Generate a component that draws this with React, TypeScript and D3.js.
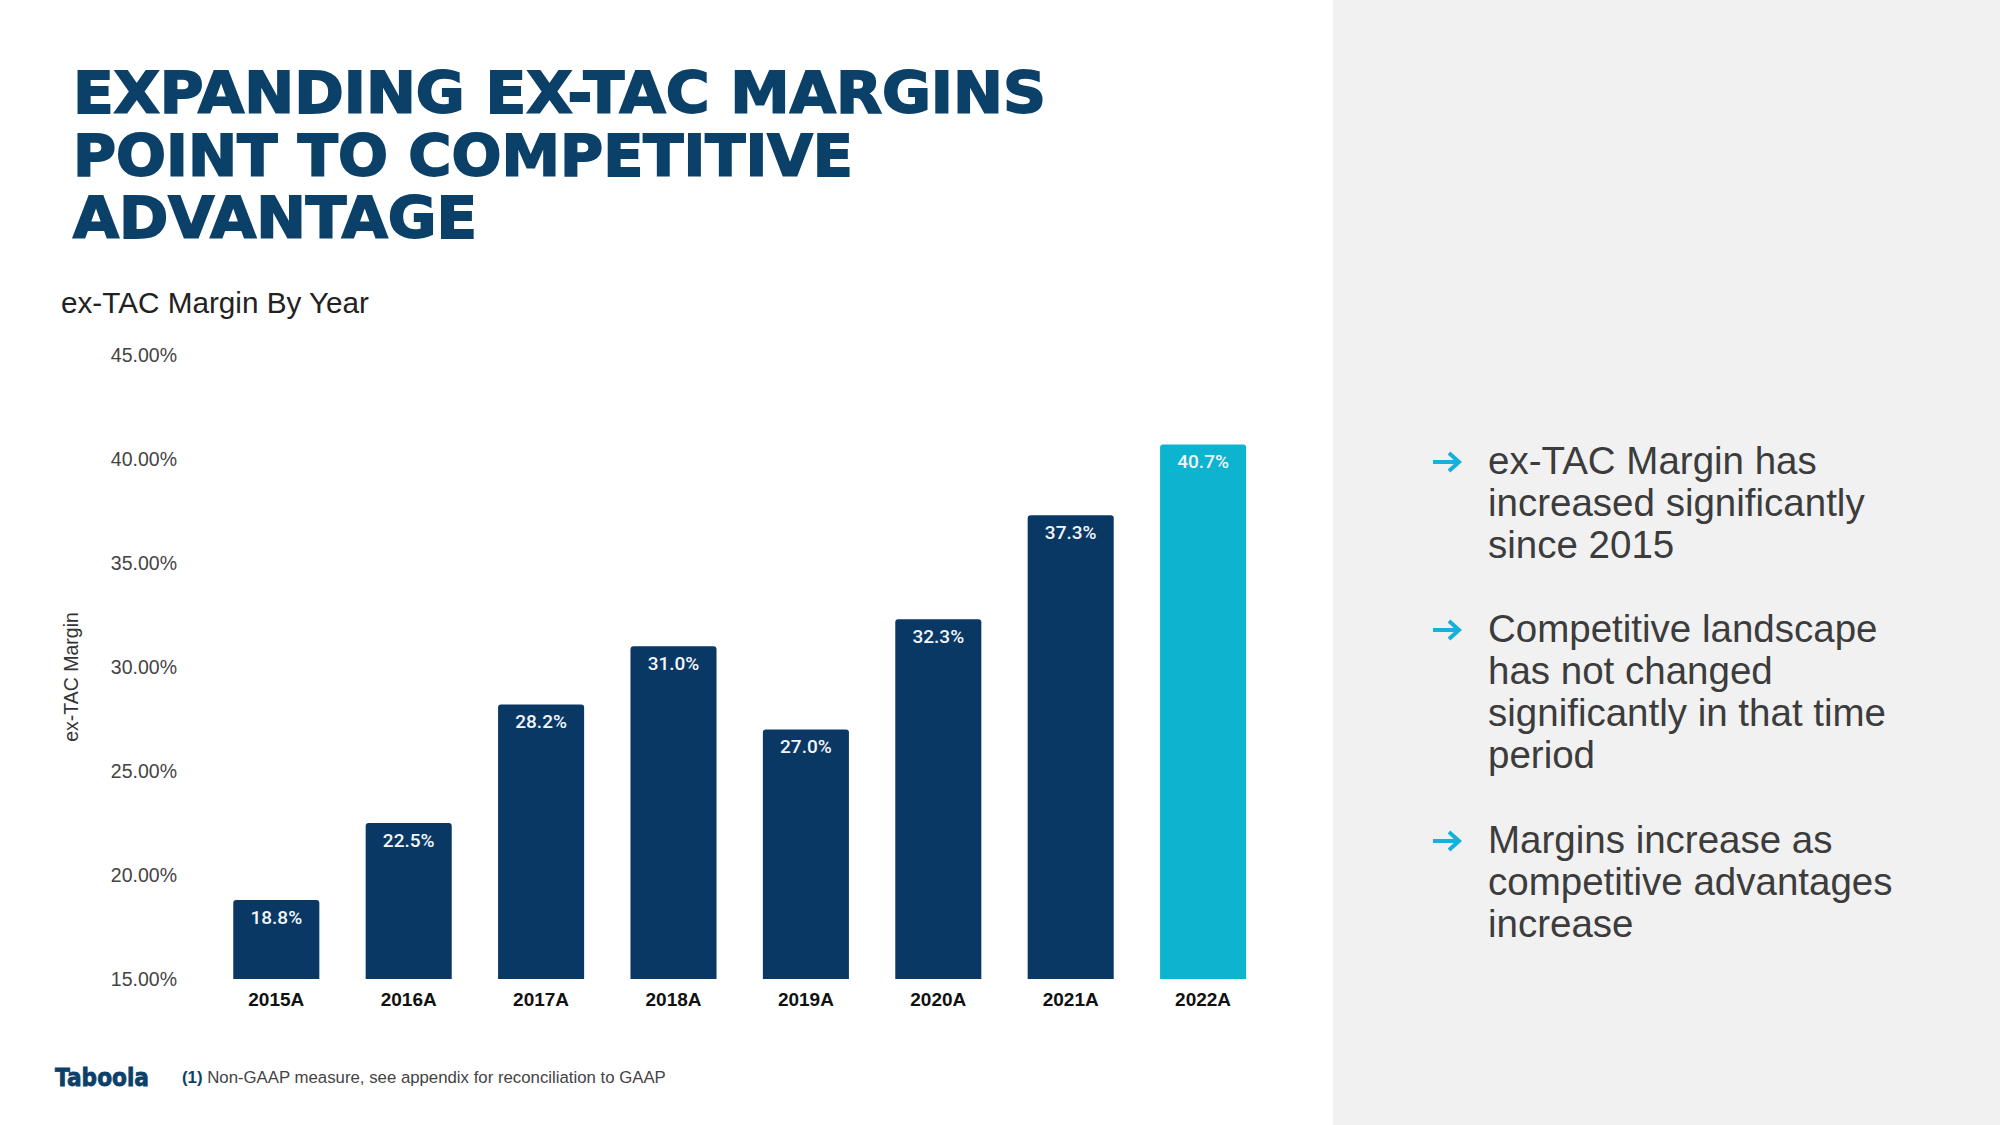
import React from "react";
import * as d3 from "d3";

const years = ["2015A", "2016A", "2017A", "2018A", "2019A", "2020A", "2021A", "2022A"];
const margins = [18.8, 22.5, 28.2, 31.0, 27.0, 32.3, 37.3, 40.7];
const highlightYear = "2022A";
const yTicks = [15, 20, 25, 30, 35, 40, 45];
const titleLines = ["EXPANDING EX-TAC MARGINS", "POINT TO COMPETITIVE", "ADVANTAGE"];
const bullets = [
  ["ex-TAC Margin has", "increased significantly", "since 2015"],
  ["Competitive landscape", "has not changed", "significantly in that time", "period"],
  ["Margins increase as", "competitive advantages", "increase"],
];

const NAVY = "#0a3864";
const CYAN = "#0cb4cf";
const TITLE = "#0b4068";
const ARROW = "#16b0d9";

export default function App() {
  const step = 132.4;
  const x = d3
    .scaleBand<string>()
    .domain(years)
    .range([276.3 - step / 2, 276.3 - step / 2 + step * years.length])
    .paddingInner(0.35)
    .paddingOuter(0.175);
  const y = d3.scaleLinear().domain([15, 45]).range([979, 355]);
  const fmtTick = (v: number) => d3.format(".2f")(v) + "%";
  const fmtVal = (v: number) => d3.format(".1f")(v) + "%";
  const bw = x.bandwidth();

  const titleWidths = [973, 780, 404];

  return (
    <svg
      width={2000}
      height={1125}
      style={{ position: "absolute", left: 0, top: 0, background: "#ffffff" }}
      fontFamily="'Liberation Sans', Arial, sans-serif"
    >
      <rect x={0} y={0} width={2000} height={1125} fill="#ffffff" />
      <rect x={1333} y={0} width={667} height={1125} fill="#f1f1f1" />

      {titleLines.map((t, i) => (
        <text
          key={t}
          x={73}
          y={113 + i * 62.5}
          fontFamily="'DejaVu Sans', sans-serif"
          fontWeight={700}
          fontSize={57}
          fill={TITLE}
          stroke={TITLE}
          strokeWidth={1.8}
          textLength={titleWidths[i]}
          lengthAdjust="spacingAndGlyphs"
        >
          {t}
        </text>
      ))}

      <text x={61} y={313} fontSize={29.7} fill="#222">
        ex-TAC Margin By Year
      </text>

      {yTicks.map((t) => (
        <text key={t} x={177} y={y(t)} dy="0.35em" textAnchor="end" fontSize={19.5} fill="#444">
          {fmtTick(t)}
        </text>
      ))}

      <text
        transform={`translate(78,677) rotate(-90)`}
        textAnchor="middle"
        fontSize={19.5}
        fill="#333"
      >
        ex-TAC Margin
      </text>

      {years.map((yr, i) => {
        const v = margins[i];
        const x0 = x(yr) as number;
        const top = y(v);
        const h = y(15) - top;
        const r = 3;
        const path = `M${x0},${top + h} V${top + r} Q${x0},${top} ${x0 + r},${top} H${x0 + bw - r} Q${x0 + bw},${top} ${x0 + bw},${top + r} V${top + h} Z`;
        return (
          <g key={yr}>
            <path d={path} fill={yr === highlightYear ? CYAN : NAVY} />
            <text
              x={x0 + bw / 2}
              y={top + 24}
              textAnchor="middle"
              fontFamily="Roboto, sans-serif"
              fontWeight={500}
              fontSize={19}
              fill="#f2f6fa"
            >
              {fmtVal(v)}
            </text>
            <text
              x={x0 + bw / 2}
              y={1006}
              textAnchor="middle"
              fontWeight={700}
              fontSize={19}
              fill="#111"
            >
              {yr}
            </text>
          </g>
        );
      })}

      <text
        x={55}
        y={1086}
        fontFamily="'DejaVu Sans', sans-serif"
        fontWeight={700}
        fontSize={24}
        fill={TITLE}
        stroke={TITLE}
        strokeWidth={0.8}
        textLength={94}
        lengthAdjust="spacingAndGlyphs"
      >
        Taboola
      </text>
      <text x={182} y={1083} fontSize={16.8} fill="#444">
        <tspan fontWeight={700} fill={TITLE}>(1)</tspan>
        <tspan> Non-GAAP measure, see appendix for reconciliation to GAAP</tspan>
      </text>

      {bullets.map((lines, bi) => {
        const base = [474, 642, 853][bi];
        const ay = base - 12;
        return (
          <g key={bi}>
            <path
              d={`M1433,${ay} H1458 M1449,${ay - 9} L1459,${ay} L1449,${ay + 9}`}
              fill="none"
              stroke={ARROW}
              strokeWidth={4}
              strokeLinecap="butt"
              strokeLinejoin="miter"
            />
            {lines.map((l, li) => (
              <text key={li} x={1488} y={base + li * 42} fontSize={38.5} fill="#3c3c3c">
                {l}
              </text>
            ))}
          </g>
        );
      })}
    </svg>
  );
}
